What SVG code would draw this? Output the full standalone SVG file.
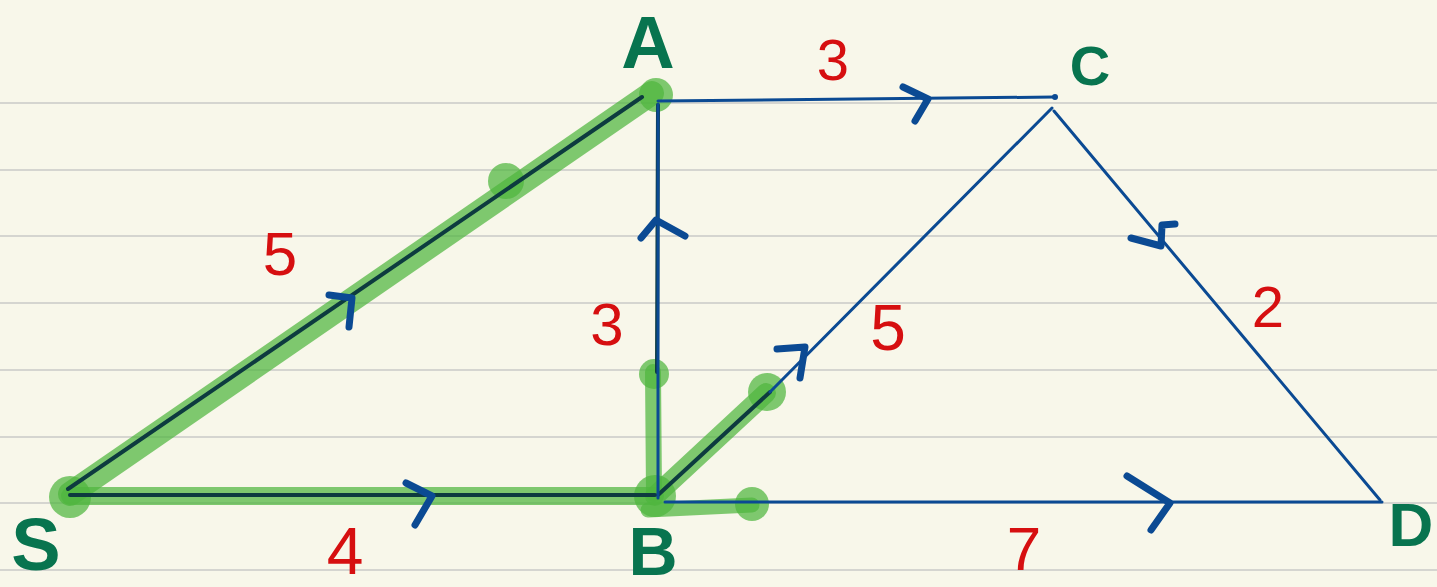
<svg xmlns="http://www.w3.org/2000/svg" width="1437" height="587" viewBox="0 0 1437 587">
<style>
.rule{stroke:#d5d5d0;stroke-width:2}
.hl{fill:none;stroke:#4fb53e;stroke-opacity:0.72;stroke-linecap:round;stroke-linejoin:round}
.blob{fill:#4fb53e;fill-opacity:0.72}
.edge{fill:none;stroke:#0b4a93;stroke-width:3;stroke-linecap:round}
.dark{fill:none;stroke:#0d3b3f;stroke-width:4;stroke-linecap:round}
.arr{fill:none;stroke:#0b4a93;stroke-width:7;stroke-linecap:round;stroke-linejoin:round}
.node{font-family:"Liberation Sans",Arial,sans-serif;font-weight:bold;fill:#08744f;text-anchor:middle}
.w{font-family:"Liberation Sans",Arial,sans-serif;fill:#d60f10;text-anchor:middle}
</style>
<rect width="1437" height="587" fill="#f8f7ea"/>
<g id="paper">
<line class="rule" x1="0" y1="103" x2="1437" y2="103"/>
<line class="rule" x1="0" y1="170" x2="1437" y2="170"/>
<line class="rule" x1="0" y1="236" x2="1437" y2="236"/>
<line class="rule" x1="0" y1="303" x2="1437" y2="303"/>
<line class="rule" x1="0" y1="370" x2="1437" y2="370"/>
<line class="rule" x1="0" y1="437" x2="1437" y2="437"/>
<line class="rule" x1="0" y1="503" x2="1437" y2="503"/>
<line class="rule" x1="0" y1="570" x2="1437" y2="570"/>
</g>
<g id="highlight">
<path class="hl" stroke-width="24" d="M70,494 L652,93"/>
<path class="hl" stroke-width="18" d="M70,496 L655,496"/>
<path class="hl" stroke-width="16" d="M654,494 L653,372"/>
<path class="hl" stroke-width="20" d="M655,496 L766,393"/>
<path class="hl" stroke-width="15" d="M648,510 L752,505"/>
<circle class="blob" cx="70" cy="497" r="21"/>
<circle class="blob" cx="656" cy="95" r="17"/>
<circle class="blob" cx="506" cy="181" r="18"/>
<circle class="blob" cx="654" cy="374" r="15"/>
<circle class="blob" cx="767" cy="392" r="19"/>
<circle class="blob" cx="752" cy="504" r="17"/>
<circle class="blob" cx="655" cy="496" r="21"/>
</g>
<g id="connectors">
<path class="dark" d="M70,495 L655,495"/>
<path class="dark" d="M68,489 L642,97"/>
<path class="dark" d="M658,105 L657,372"/>
<path class="dark" d="M658,495 L770,392"/>
<path class="edge" d="M658,104 L658,498"/>
<path class="edge" d="M658,101 L1054,97"/>
<circle cx="1055" cy="97" r="3" fill="#0b4a93"/>
<path class="edge" d="M770,392 L1052,108"/>
<path class="edge" d="M1054,111 L1380,500"/>
<path class="edge" d="M665,502 L1382,502"/>
<path class="arr" d="M329,295 L352,298 L349,327"/>
<path class="arr" d="M406,483 L432,496 L415,525"/>
<path class="arr" d="M903,87 L928,99 L915,121"/>
<path class="arr" d="M641,238 L656,220 L685,236"/>
<path class="arr" d="M777,349 L805,347 L800,378"/>
<path class="arr" d="M1131,238 L1161,246 L1162,225 L1175,224"/>
<path class="arr" d="M1127,476 L1170,503 L1151,530"/>
</g>
<g id="S"><text class="node" x="36" y="570" font-size="74">S</text></g>
<g id="A"><text class="node" x="648" y="68" font-size="74">A</text></g>
<g id="B"><text class="node" x="653" y="575" font-size="68">B</text></g>
<g id="C"><text class="node" x="1090" y="85" font-size="56">C</text></g>
<g id="D"><text class="node" x="1411" y="546" font-size="62">D</text></g>
<g id="weights">
<text class="w" x="280" y="275" font-size="62">5</text>
<text class="w" x="345" y="574" font-size="66">4</text>
<text class="w" x="833" y="80" font-size="58">3</text>
<text class="w" x="607" y="345" font-size="60">3</text>
<text class="w" x="888" y="350" font-size="64">5</text>
<text class="w" x="1268" y="327" font-size="58">2</text>
<text class="w" x="1024" y="570" font-size="62">7</text>
</g>
</svg>
